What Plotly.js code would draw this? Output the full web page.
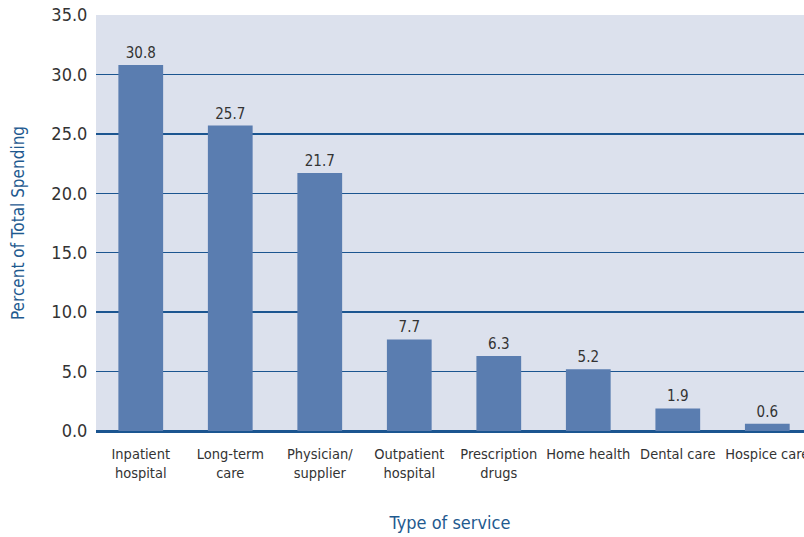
<!DOCTYPE html>
<html><head><meta charset="utf-8">
<script src="https://cdn.plot.ly/plotly-3.0.1.min.js"></script>
<style>html,body{margin:0;padding:0;background:#fff;}#chart{width:804px;height:537px;}</style>
</head><body><div id="chart"></div>
<script>
const categories = ["Inpatient<br>hospital","Long-term<br>care","Physician/<br>supplier","Outpatient<br>hospital","Prescription<br>drugs","Home health","Dental care","Hospice care"];
const values = [30.8, 25.7, 21.7, 7.7, 6.3, 5.2, 1.9, 0.6];
const valueLabels = values.map(v => v.toFixed(1));
const yTickVals = [0,5,10,15,20,25,30,35];
const yTickText = yTickVals.map(v => v.toFixed(1));

const FONT = '"Liberation Sans Narrow", "DejaVu Sans Condensed", "Arial Narrow", sans-serif';
const trace = {
  type: 'bar',
  x: categories.map((c,i)=>i),
  y: values,
  text: valueLabels,
  textposition: 'outside',
  cliponaxis: false,
  textfont: {family: FONT, size: 15, color: '#333333'},
  marker: {color: '#5a7db0'},
  width: 0.5,
  hoverinfo: 'none'
};
const layout = {
  width: 804, height: 537,
  margin: {l: 96, r: 0, t: 15, b: 106},
  paper_bgcolor: '#ffffff',
  plot_bgcolor: '#dce1ed',
  font: {family: FONT, color: '#333333'},
  showlegend: false,
  bargap: 0.5,
  xaxis: {
    range: [-0.5, 7.41],
    tickmode: 'array',
    tickvals: categories.map((c,i)=>i),
    ticktext: categories,
    tickangle: 0,
    ticklabeloverflow: 'allow',
    tickfont: {family: FONT, size: 14.5, color: '#333333'},
    showgrid: false,
    zeroline: false,
    showline: false,
    ticks: 'outside',
    ticklen: 10,
    tickcolor: 'rgba(0,0,0,0)',
    title: {text: 'Type of service', font: {family: FONT, size: 18, color: '#1f5a8f'}, standoff: 36}
  },
  yaxis: {
    range: [0, 35],
    tickmode: 'array',
    tickvals: yTickVals,
    ticktext: yTickText,
    tickfont: {family: FONT, size: 18, color: '#333333'},
    showgrid: true,
    gridcolor: '#1b5590',
    gridwidth: 1.4,
    zeroline: true,
    zerolinecolor: '#1b5590',
    zerolinewidth: 3,
    showline: false,
    ticks: 'outside',
    ticklen: 4,
    tickcolor: 'rgba(0,0,0,0)',
    title: {text: 'Percent of Total Spending', font: {family: FONT, size: 17, color: '#1f5a8f'}, standoff: 22}
  }
};
Plotly.newPlot('chart', [trace], layout, {displayModeBar: false, staticPlot: true});
</script></body></html>
